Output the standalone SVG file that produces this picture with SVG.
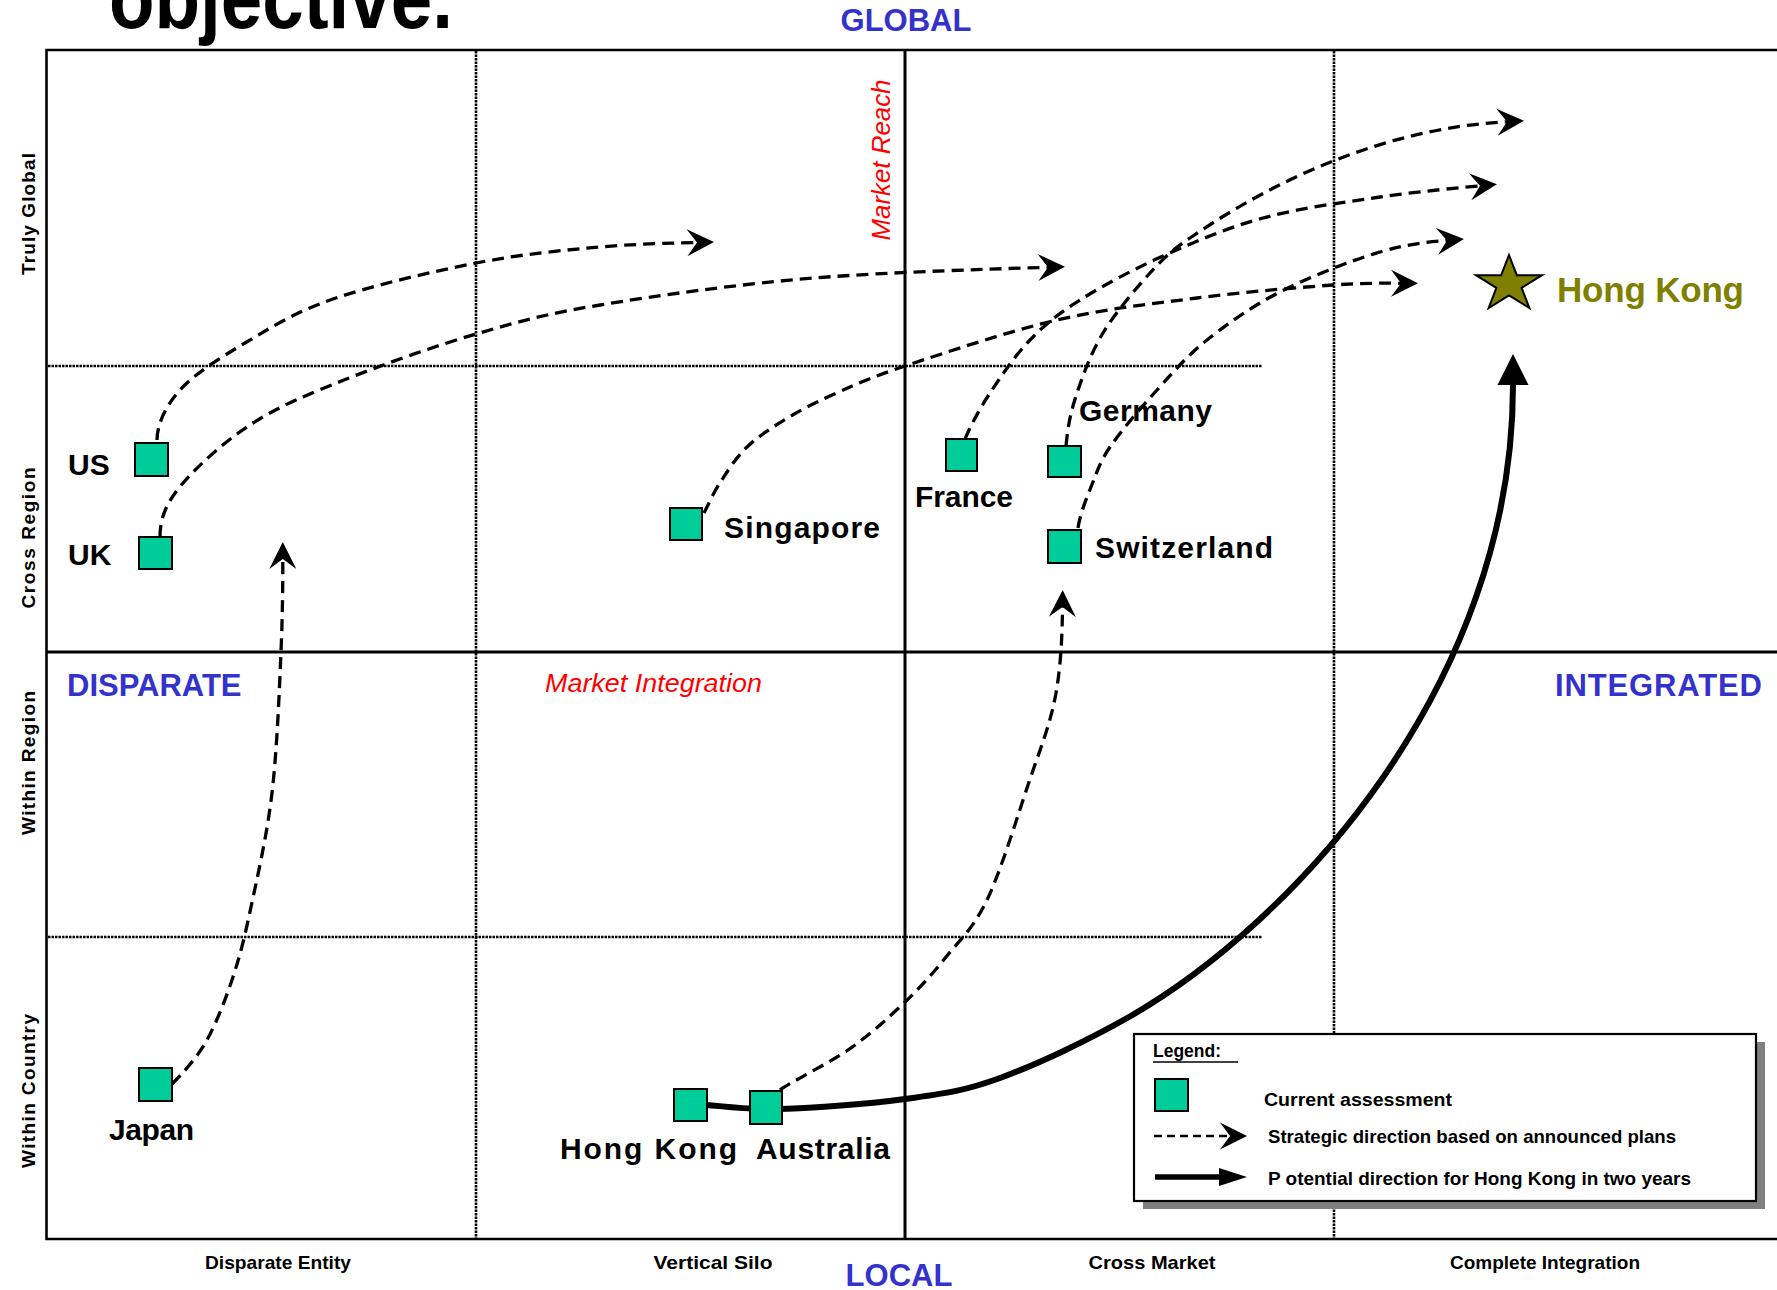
<svg xmlns="http://www.w3.org/2000/svg" width="1777" height="1290" viewBox="0 0 1777 1290">
<style>
text{font-family:"Liberation Sans",Arial,sans-serif;fill:#000}
.frame{stroke:#000;stroke-width:2.6;fill:none}
.axis{stroke:#000;stroke-width:3;fill:none}
.dot{stroke:#000;stroke-width:2.6;stroke-dasharray:2.5 1;fill:none}
.sq{fill:#00CC99;stroke:#000;stroke-width:2}
.lbl{font-size:30px;font-weight:bold}
.pole{font-size:31px;font-weight:bold;fill:#3333CC}
.dim{font-size:26px;font-style:italic;fill:#FF0000}
.ax{font-size:19px;font-weight:bold}
.leg{font-size:19px;font-weight:bold}
.plan{stroke:#000;stroke-width:3.3;stroke-dasharray:12 7;fill:none;marker-end:url(#stealth)}
.hk{stroke:#000;stroke-width:6;fill:none;marker-end:url(#solidhead)}
</style>
<defs>
<marker id="stealth" markerUnits="userSpaceOnUse" viewBox="-12 -15 31 30" markerWidth="31" markerHeight="30" refX="0" refY="0" orient="auto">
<path d="M17,0 L-10,-13.5 L0,0 L-10,13.5 Z" fill="#000" stroke="none"/>
</marker>
<marker id="solidhead" markerUnits="userSpaceOnUse" viewBox="-1 -16 33 32" markerWidth="33" markerHeight="32" refX="0" refY="0" orient="auto">
<path d="M31,0 L0,-15.5 L0,15.5 Z" fill="#000" stroke="none"/>
</marker>
</defs>

<rect width="1777" height="1290" fill="#fff"/>

<!-- title (partly off the top edge) -->
<text x="109" y="28" font-size="88" font-weight="bold" textLength="344" lengthAdjust="spacingAndGlyphs">objective.</text>

<!-- matrix grid -->
<g id="grid">
<line class="dot" x1="476" y1="51" x2="476" y2="1238"/>
<line class="dot" x1="1334" y1="51" x2="1334" y2="1238"/>
<line class="dot" x1="48" y1="366" x2="1262" y2="366"/>
<line class="dot" x1="48" y1="937" x2="1262" y2="937"/>
<line class="axis" x1="905" y1="50" x2="905" y2="1239"/>
<line class="axis" x1="46" y1="652" x2="1777" y2="652"/>
<polyline class="frame" points="1777,50 46.5,50 46.5,1239 1777,1239"/>
</g>

<!-- axis poles and dimension names -->
<g id="axis-labels">
<text class="pole" x="906" y="31" text-anchor="middle">GLOBAL</text>
<text class="pole" x="899" y="1286" text-anchor="middle">LOCAL</text>
<text class="pole" x="67" y="696">DISPARATE</text>
<text class="pole" x="1762" y="696" text-anchor="end" textLength="207">INTEGRATED</text>
<text class="dim" transform="translate(890,160) rotate(-90)" text-anchor="middle" textLength="161" lengthAdjust="spacingAndGlyphs">Market Reach</text>
<text class="dim" x="545" y="692" textLength="217" lengthAdjust="spacingAndGlyphs">Market Integration</text>
<text class="ax" transform="translate(35,214) rotate(-90)" text-anchor="middle" textLength="122">Truly Global</text>
<text class="ax" transform="translate(35,538) rotate(-90)" text-anchor="middle" textLength="141">Cross Region</text>
<text class="ax" transform="translate(35,763) rotate(-90)" text-anchor="middle" textLength="144">Within Region</text>
<text class="ax" transform="translate(35,1091) rotate(-90)" text-anchor="middle" textLength="154">Within Country</text>
<text class="ax" x="278" y="1269" text-anchor="middle" textLength="146" lengthAdjust="spacingAndGlyphs">Disparate Entity</text>
<text class="ax" x="713" y="1269" text-anchor="middle" textLength="119" lengthAdjust="spacingAndGlyphs">Vertical Silo</text>
<text class="ax" x="1152" y="1269" text-anchor="middle" textLength="127" lengthAdjust="spacingAndGlyphs">Cross Market</text>
<text class="ax" x="1545" y="1269" text-anchor="middle" textLength="190" lengthAdjust="spacingAndGlyphs">Complete Integration</text>
</g>

<!-- strategic directions and the Hong Kong path -->
<g id="connectors">
<path id="us-path" class="plan" d="M157,440 C157,425 165.3,406.2 180,390 C194.7,373.8 219.5,358.2 245,343 C270.5,327.8 294.5,312.3 333,299 C371.5,285.7 431.5,271.7 476,263 C520.5,254.3 560.3,250.5 600,247 C639.7,243.5 680,243 697,242.5"/>
<path id="uk-path" class="plan" d="M160,537 C160,515 168.5,499.8 184,482 C199.5,464.2 226.3,440 253,423 C279.7,406 306.8,394.8 344,380 C381.2,365.2 433.3,346.5 476,334 C518.7,321.5 543.7,314.3 600,305 C656.3,295.7 736.5,284.3 814,278 C891.5,271.7 1010,268.5 1048,267.3"/>
<path id="japan-path" class="plan" d="M172,1084 C181.2,1075 197.5,1057.5 207,1040 C216.5,1022.5 225.7,999.2 233,977 C240.3,954.8 244.5,937.7 251,907 C257.5,876.3 267,835.5 272,793 C277,750.5 279.2,693.8 281,652 C282.8,610.2 282.8,575 282.8,559"/>
<path id="singapore-path" class="plan" d="M704,513 C706.75,507.8 713.3,493 720.5,482 C727.7,471 735.8,457.7 747,447 C758.2,436.3 772.6,427 787.5,418 C802.4,409 817,401.7 836.6,393 C856.2,384.3 868.3,378.2 905,366 C941.7,353.8 1008.3,331.3 1057,320 C1105.7,308.7 1151,303.8 1197,298 C1243,292.2 1296.2,287.5 1333,285 C1369.8,282.5 1390,283.3 1401,283.3"/>
<path id="france-path" class="plan" d="M965,439 C969,429 979.2,409.3 990,393 C1000.8,376.7 1015,355.5 1030,340 C1045,324.5 1057.8,314 1080,300 C1102.2,286 1132.5,269.7 1163,256 C1193.5,242.3 1226.8,227.8 1263,218 C1299.2,208.2 1341,202.7 1380,197 C1419,191.3 1465,187.2 1480,185.8"/>
<path id="germany-path" class="plan" d="M1066,446 C1068,425 1071,410.5 1077,393 C1083,375.5 1090.8,353 1103,333 C1115.2,313 1135.5,288.8 1150,273 C1164.5,257.2 1171.2,250.7 1190,238 C1280,176 1390,128 1507,121.7"/>
<path id="switzerland-path" class="plan" d="M1078,528 C1080,515 1085.7,500 1091,487 C1096.3,474 1099,463.2 1110,447 C1121,430.8 1140.8,407.8 1157,390 C1173.2,372.2 1186.5,356.3 1207,340 C1227.5,323.7 1251.2,306.7 1280,292 C1308.8,277.3 1349.3,261 1380,252 C1410.7,243 1435,241.5 1447,240.5"/>
<path id="australia-path" class="plan" d="M780,1090 C791.3,1081.7 827.3,1064.2 848,1050 C868.7,1035.8 887.7,1018.5 904,1003 C920.3,987.5 932.2,974.2 946,957 C959.8,939.8 973.3,928.7 987,900 C1000.7,871.3 1016.5,819.5 1028,785 C1039.5,750.5 1050.2,725.5 1056,693 C1061.8,660.5 1062.3,625 1062.5,607"/>
<path id="hongkong-path" class="hk" d="M707,1105 C719.2,1105.7 747,1110 780,1109 C813,1108 868.3,1104.2 905,1099 C941.7,1093.8 962.7,1091.7 1000,1078 C1037.3,1064.3 1087.8,1040.5 1129,1017 C1293,923 1513,685 1513,385"/>
</g>

<!-- current assessments -->
<g id="node-us"><rect class="sq" x="135" y="443" width="33" height="33"/><text class="lbl" x="68" y="475">US</text></g>
<g id="node-uk"><rect class="sq" x="139" y="537" width="33" height="32"/><text class="lbl" x="68" y="565">UK</text></g>
<g id="node-japan"><rect class="sq" x="139" y="1068" width="33" height="33"/><text class="lbl" x="109" y="1140" textLength="85">Japan</text></g>
<g id="node-singapore"><rect class="sq" x="670" y="508" width="32" height="32"/><text class="lbl" x="724" y="538" textLength="156">Singapore</text></g>
<g id="node-france"><rect class="sq" x="946" y="439" width="31" height="32"/><text class="lbl" x="915" y="507" textLength="98">France</text></g>
<g id="node-germany"><rect class="sq" x="1048" y="446" width="33" height="31"/><text class="lbl" x="1079" y="421" textLength="133">Germany</text></g>
<g id="node-switzerland"><rect class="sq" x="1048" y="530" width="33" height="33"/><text class="lbl" x="1095" y="558" textLength="178">Switzerland</text></g>
<g id="node-hongkong"><rect class="sq" x="674" y="1089" width="33" height="32"/><text class="lbl" x="560" y="1159" textLength="177">Hong Kong</text></g>
<g id="node-australia"><rect class="sq" x="750" y="1091" width="32" height="33"/><text class="lbl" x="756" y="1159" textLength="134">Australia</text></g>

<!-- Hong Kong target -->
<g id="node-hongkong-target">
<polygon points="1509,255 1516.8,275.2 1542,275.2 1521.6,287.8 1529.4,308 1509,295.5 1488.6,308 1496.4,287.8 1476,275.2 1501.2,275.2" fill="#808000" stroke="#000" stroke-width="2" stroke-linejoin="miter"/>
<text x="1557" y="302" font-size="35" font-weight="bold" style="fill:#808000" textLength="187">Hong Kong</text>
</g>

<!-- legend -->
<g id="legend">
<rect x="1143" y="1042" width="622" height="167" fill="#808080"/>
<rect x="1134" y="1034" width="622" height="167" fill="#fff" stroke="#000" stroke-width="2.2"/>
<text class="leg" x="1153" y="1057" textLength="68" lengthAdjust="spacingAndGlyphs">Legend:</text>
<line x1="1153" y1="1062" x2="1238" y2="1062" stroke="#000" stroke-width="1.5"/>
<rect class="sq" x="1155" y="1079" width="33" height="32"/>
<text class="leg" x="1264" y="1106" textLength="188" lengthAdjust="spacingAndGlyphs">Current assessment</text>
<line x1="1154" y1="1136" x2="1230" y2="1136" stroke="#000" stroke-width="2.5" stroke-dasharray="8 5" marker-end="url(#stealth)"/>
<text class="leg" x="1268" y="1143" textLength="408" lengthAdjust="spacingAndGlyphs">Strategic direction based on announced plans</text>
<line x1="1155" y1="1177" x2="1222" y2="1177" stroke="#000" stroke-width="5.5"/>
<polygon points="1247,1177 1219,1168 1219,1186" fill="#000"/>
<text class="leg" x="1268" y="1185" textLength="423" lengthAdjust="spacingAndGlyphs">P otential direction for Hong Kong in two years</text>
</g>
</svg>
